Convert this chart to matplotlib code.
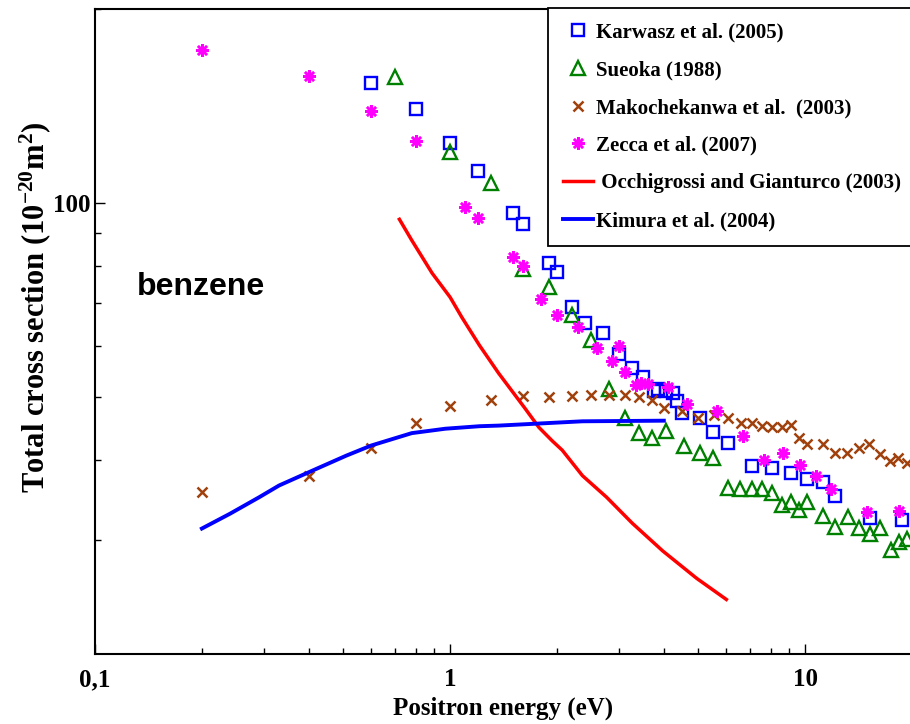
import matplotlib
matplotlib.use("Agg")
import matplotlib.pyplot as plt
from matplotlib.ticker import FixedLocator, FixedFormatter, NullFormatter

# Karwasz et al. (2005)
karwasz_e = [0.6, 0.8, 1.0, 1.2, 1.5, 1.6, 1.9, 2.0, 2.2, 2.4, 2.7, 3.0, 3.25, 3.5,
             3.75, 3.85, 4.05, 4.25, 4.35, 4.5, 5.05, 5.5, 6.05, 7.1, 8.05, 9.1,
             10.1, 11.2, 12.1, 15.2, 18.8]
karwasz_q = [153.6, 140, 124, 112, 96.5, 92.8, 80.7, 78.2, 69, 65.3, 62.9, 58.3, 55.6, 53.7,
             51.2, 51.6, 51.1, 50.7, 49.4, 47.3, 46.5, 44.2, 42.5, 39.1, 38.9, 38.2,
             37.4, 36.9, 35.2, 32.5, 32.3]

# Sueoka (1988)
sueoka_e = [0.7, 1.0, 1.3, 1.6, 1.9, 2.2, 2.5, 2.8, 3.1, 3.4, 3.7, 4.05, 4.55, 5.05,
            5.5, 6.05, 6.55, 7.1, 7.55, 8.05, 8.6, 9.1, 9.6, 10.1, 11.2, 12.1, 13.2,
            14.2, 15.2, 16.3, 17.4, 18.4, 19.4]
sueoka_q = [157, 120, 107.4, 79, 74.1, 67, 61.3, 51.5, 46.4, 44.1, 43.2, 44.3, 42.1, 41.0,
            40.2, 36.2, 36.1, 36.1, 36.1, 35.5, 34.0, 34.4, 33.5, 34.4, 32.7, 31.5, 32.6,
            31.4, 30.7, 31.4, 29.0, 29.8, 30.2]

# Makochekanwa et al. (2003)
mako_e = [0.2, 0.4, 0.6, 0.8, 1.0, 1.3, 1.6, 1.9, 2.2, 2.5, 2.8, 3.1, 3.4, 3.7, 4.0,
          4.5, 5.0, 5.55, 6.05, 6.6, 7.1, 7.55, 8.05, 8.6, 9.1, 9.6, 10.1, 11.2, 12.1,
          13.1, 14.2, 15.1, 16.2, 17.3, 18.3, 19.3]
mako_q = [35.7, 37.7, 41.8, 45.7, 48.4, 49.6, 50.2, 50.0, 50.2, 50.5, 50.5, 50.4, 50.0, 49.5, 48.2,
          47.7, 46.4, 46.9, 46.4, 45.7, 45.7, 45.2, 44.9, 45.0, 45.3, 43.3, 42.4, 42.4, 41.0,
          41.0, 41.8, 42.4, 40.9, 39.9, 40.3, 39.5]

# Zecca et al. (2007)
zecca_e = [0.2, 0.4, 0.6, 0.8, 1.1, 1.2, 1.5, 1.6, 1.8, 2.0, 2.3, 2.6, 2.85, 3.0, 3.1,
           3.35, 3.45, 3.6, 4.1, 4.65, 5.65, 6.7, 7.65, 8.65, 9.65, 10.7, 11.8, 14.9, 18.4]
zecca_q = [172.8, 157.4, 139, 124.8, 98.6, 94.8, 82.4, 79.8, 71, 67, 64.2, 59.6, 57, 60, 54.8,
           52.3, 52.6, 52.5, 51.8, 48.9, 47.7, 43.6, 40.0, 41.0, 39.2, 37.8, 36.1, 33.2, 33.3]

# Occhigrossi and Gianturco (2003)
occhi_e = [0.72, 0.78, 0.89, 1.0, 1.08, 1.21, 1.37, 1.62, 1.78, 1.94, 2.07, 2.36, 2.76,
           3.26, 3.97, 4.95, 6.0]
occhi_q = [94.4, 87.6, 77.9, 71.5, 66.5, 60.2, 54.5, 48.2, 44.9, 42.8, 41.4, 37.8, 35.0,
           31.9, 28.9, 26.2, 24.3]

# Kimura et al. (2004)
kimura_e = [0.2, 0.24, 0.29, 0.33, 0.41, 0.51, 0.6, 0.78, 0.97, 1.21, 1.37, 2.36, 4.0]
kimura_q = [31.3, 33.0, 35.0, 36.5, 38.5, 40.6, 42.1, 44.0, 44.7, 45.1, 45.2, 45.9, 46.0]

plt.rcParams["font.family"] = "Liberation Serif"
plt.rcParams["font.weight"] = "bold"
plt.rcParams["mathtext.fontset"] = "custom"
plt.rcParams["mathtext.rm"] = "Liberation Serif:bold"
plt.rcParams["mathtext.bf"] = "Liberation Serif:bold"
plt.rcParams["mathtext.it"] = "Liberation Serif:bold:italic"
plt.rcParams["mathtext.default"] = "rm"

W, H = 910, 724
fig = plt.figure(figsize=(W / 100, H / 100), dpi=100)
ax = fig.add_axes([95 / W, 1 - 654 / H, (912 - 95) / W, (654 - 9) / H])

ax.plot(karwasz_e, karwasz_q, ls="none", marker="s", ms=8, mfc="none", mec="#0000ff", mew=1.7,
        label="Karwasz et al. (2005)")
ax.plot(sueoka_e, sueoka_q, ls="none", marker="^", ms=10, mfc="none", mec="#008000", mew=1.7,
        label="Sueoka (1988)")
ax.plot(mako_e, mako_q, ls="none", marker="x", ms=7, mec="#a0410d", mew=1.8,
        label="Makochekanwa et al.  (2003)")
ax.plot(zecca_e, zecca_q, ls="none", marker=(8, 2, 0), ms=9, mec="#ff00ff", mew=1.8,
        label="Zecca et al. (2007)")
ax.plot(occhi_e, occhi_q, color="#ff0000", lw=2.5, label=" Occhigrossi and Gianturco (2003)")
ax.plot(kimura_e, kimura_q, color="#0000ff", lw=2.8, label="Kimura et al. (2004)")

ax.set_xscale("log")
ax.set_yscale("log")
ax.set_xlim(0.1, 20)
ax.set_ylim(20, 200)

ax.xaxis.set_major_locator(FixedLocator([0.1, 1, 10]))
ax.xaxis.set_major_formatter(FixedFormatter(["0,1", "1", "10"]))
ax.xaxis.set_minor_locator(FixedLocator([0.2, 0.3, 0.4, 0.5, 0.6, 0.7, 0.8, 0.9,
                                         2, 3, 4, 5, 6, 7, 8, 9]))
ax.xaxis.set_minor_formatter(NullFormatter())
ax.yaxis.set_major_locator(FixedLocator([100]))
ax.yaxis.set_major_formatter(FixedFormatter(["100"]))
ax.yaxis.set_minor_locator(FixedLocator([30, 40, 50, 60, 70, 80, 90, 200]))
ax.yaxis.set_minor_formatter(NullFormatter())

ax.tick_params(which="both", direction="in", top=False, right=False, width=1)
ax.tick_params(which="major", length=7, labelsize=18)
ax.tick_params(which="minor", length=4)
ax.tick_params(axis="x", which="major", pad=10)
ax.tick_params(axis="y", which="major", pad=3)
for s in ax.spines.values():
    s.set_linewidth(1.5)

ax.set_xlabel("Positron energy (eV)", fontsize=18, fontweight="bold")
ax.xaxis.set_label_coords(0.5, -0.066)
fig.text(35 / W, 1 - 307 / H, "Total cross section (10$^{-20}$m$^{2}$)", rotation=90,
         ha="center", va="center", fontsize=22, fontweight="bold")

fig.text(137 / W, 1 - 287 / H, "benzene", fontsize=23, fontweight="bold",
         family="Liberation Sans", ha="left", va="center")

leg = ax.legend(loc="upper left", bbox_to_anchor=(548 / W, 1 - 8 / H),
                bbox_transform=fig.transFigure, borderaxespad=0, borderpad=0.7,
                handlelength=1.45, handletextpad=0.15, labelspacing=0.85,
                prop={"family": "Liberation Serif", "weight": "bold", "size": 15},
                fancybox=False, framealpha=1, edgecolor="black")
leg.get_frame().set_linewidth(1.3)

fig.savefig("out.png", dpi=100)
